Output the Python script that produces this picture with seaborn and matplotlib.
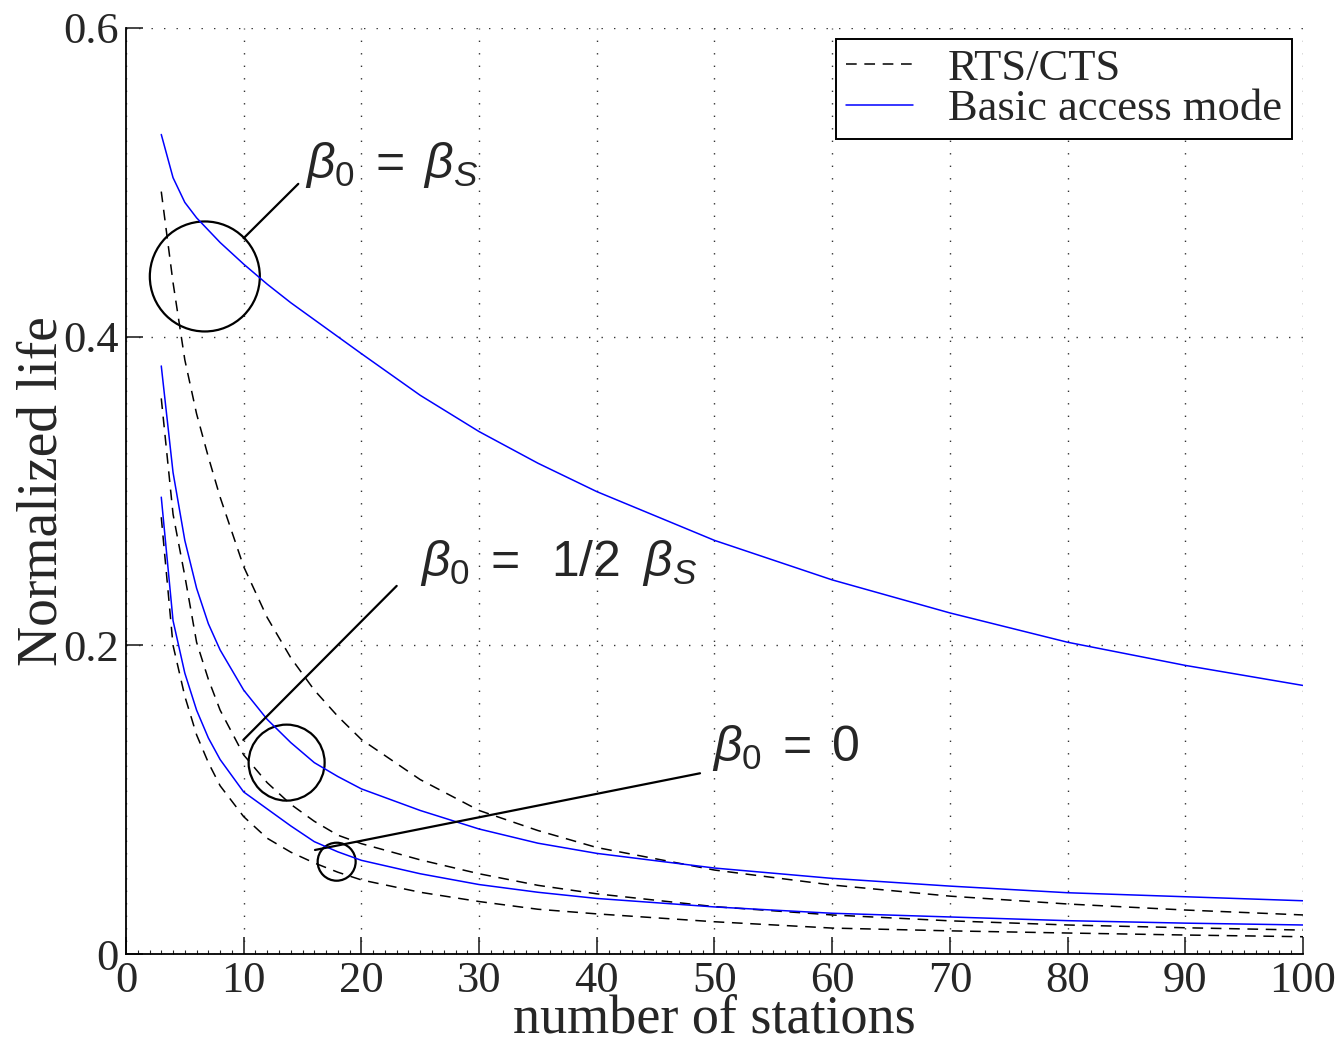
import numpy as np
import pandas as pd
import matplotlib

matplotlib.use('Agg')
import matplotlib.pyplot as plt
import seaborn as sns
from matplotlib.patches import Ellipse
from matplotlib.ticker import MultipleLocator

sns.set_style("ticks")
plt.rcParams['font.family'] = ['Liberation Serif', 'DejaVu Serif']
plt.rcParams['mathtext.fontset'] = 'custom'
plt.rcParams['mathtext.rm'] = 'Liberation Sans'
plt.rcParams['mathtext.it'] = 'Liberation Sans:italic'

# ---- data ----
stations = [3, 4, 5, 6, 7, 8, 10, 12, 14, 16, 18, 20, 25, 30, 35, 40, 50, 60, 70, 80, 90, 100]

basic_bs = [0.531, 0.503, 0.487, 0.477, 0.469, 0.461, 0.447, 0.434, 0.422, 0.411, 0.400, 0.389,
            0.362, 0.3385, 0.318, 0.2996, 0.268, 0.2424, 0.221, 0.202, 0.187, 0.174]
rts_bs = [0.494, 0.435, 0.385, 0.350, 0.322, 0.296, 0.251, 0.218, 0.192, 0.171, 0.154, 0.139,
          0.113, 0.093, 0.080, 0.069, 0.0544, 0.0447, 0.0375, 0.0324, 0.0285, 0.0253]
basic_half = [0.381, 0.312, 0.268, 0.237, 0.214, 0.197, 0.171, 0.152, 0.137, 0.124, 0.115, 0.107,
              0.093, 0.081, 0.0718, 0.0652, 0.0557, 0.049, 0.044, 0.0397, 0.0371, 0.0345]
rts_half = [0.360, 0.285, 0.245, 0.202, 0.178, 0.158, 0.129, 0.111, 0.097, 0.086, 0.077, 0.0715,
            0.061, 0.052, 0.0445, 0.039, 0.0307, 0.0253, 0.0215, 0.0188, 0.017, 0.0155]
basic_zero = [0.296, 0.216, 0.182, 0.158, 0.140, 0.126, 0.105, 0.094, 0.083, 0.0728, 0.0662, 0.0607,
              0.052, 0.045, 0.040, 0.036, 0.0305, 0.0264, 0.024, 0.0216, 0.020, 0.0188]
rts_zero = [0.283, 0.200, 0.167, 0.142, 0.124, 0.109, 0.089, 0.075, 0.066, 0.059, 0.053, 0.048,
            0.040, 0.034, 0.029, 0.026, 0.0209, 0.0168, 0.015, 0.0136, 0.0123, 0.0112]

series = [
    ("RTS/CTS", "bs", rts_bs),
    ("Basic access mode", "bs", basic_bs),
    ("RTS/CTS", "half", rts_half),
    ("Basic access mode", "half", basic_half),
    ("RTS/CTS", "zero", rts_zero),
    ("Basic access mode", "zero", basic_zero),
]
rows = []
for mode, beta, vals in series:
    for x, v in zip(stations, vals):
        rows.append({"stations": x, "life": v, "mode": mode, "beta": beta})
df = pd.DataFrame(rows)

# ---- figure ----
fig = plt.figure(figsize=(13.4, 10.44), dpi=100)
ax = fig.add_axes([0.094, 0.0862, 0.8784, 0.887])

styles = {"RTS/CTS": dict(color="black", dashes=(7, 5)),
          "Basic access mode": dict(color="#0000ff", dashes=())}
seen = set()
for (mode, beta), grp in df.groupby(["mode", "beta"], sort=False):
    st = styles[mode]
    sns.lineplot(data=grp, x="stations", y="life", ax=ax, color=st["color"], lw=1.1,
                 label=mode if mode not in seen else None, legend=False)
    if st["dashes"]:
        ax.lines[-1].set_dashes(st["dashes"])
    seen.add(mode)

ax.set_xlim(0, 100)
ax.set_ylim(0, 0.6)
ax.set_xticks(np.arange(0, 101, 10))
ax.set_yticks([0, 0.2, 0.4, 0.6])
ax.set_yticklabels(['0', '0.2', '0.4', '0.6'])
ax.xaxis.set_minor_locator(MultipleLocator(1))
ax.tick_params(which='major', direction='in', length=12, width=1.2, labelsize=32, pad=5)
ax.tick_params(which='minor', direction='in', length=3, width=0.8)
ax.tick_params(axis='x', pad=5)
ax.grid(True, which='major', linestyle=(0, (1, 8)), color='#333333', lw=1.0)
for s in ['top', 'right']:
    ax.spines[s].set_visible(False)
for s in ['left', 'bottom']:
    ax.spines[s].set_linewidth(1.3)
    ax.spines[s].set_color('black')

ax.set_xlabel("number of stations", fontsize=39, labelpad=-5)
ax.set_ylabel("Normalized life", fontsize=40, labelpad=-4)

# legend
handles, labels = ax.get_legend_handles_labels()
leg = ax.legend(handles, labels, loc='upper right', fontsize=32, frameon=True, fancybox=False,
                edgecolor='black', framealpha=1, handlelength=1.5, handletextpad=0.8,
                borderpad=0.22, labelspacing=0.0, borderaxespad=0.25)
leg.get_frame().set_linewidth(1.4)

# annotations: circles, leader lines and labels
circles = [((6.7, 0.439), 55), ((13.65, 0.124), 38), ((17.9, 0.0598), 19)]
px_x = 1177 / 100.0
px_y = 926 / 0.6
for (cx, cy), r in circles:
    ax.add_patch(Ellipse((cx, cy), 2 * r / px_x, 2 * r / px_y, fill=False, ec='black', lw=1.6))

leaders = [((10.0, 0.4638), (14.64, 0.4990)),
           ((9.97, 0.1387), (23.0, 0.2385)),
           ((16.06, 0.0674), (48.77, 0.1171))]
for (x0, y0), (x1, y1) in leaders:
    ax.plot([x0, x1], [y0, y1], color='black', lw=1.6)

notes = [(15.2, 0.511, r'$\beta_{0} \; = \; \beta_{S}$'),
         (25.0, 0.2534, r'$\beta_{0} \; = \;\; 1/2 \;\; \beta_{S}$'),
         (49.8, 0.1335, r'$\beta_{0} \; = \; 0$')]
for x, y, t in notes:
    ax.text(x, y, t, fontsize=36, family=['Liberation Sans', 'DejaVu Sans'], ha='left', va='center')

fig.savefig("out.png", dpi=100)
